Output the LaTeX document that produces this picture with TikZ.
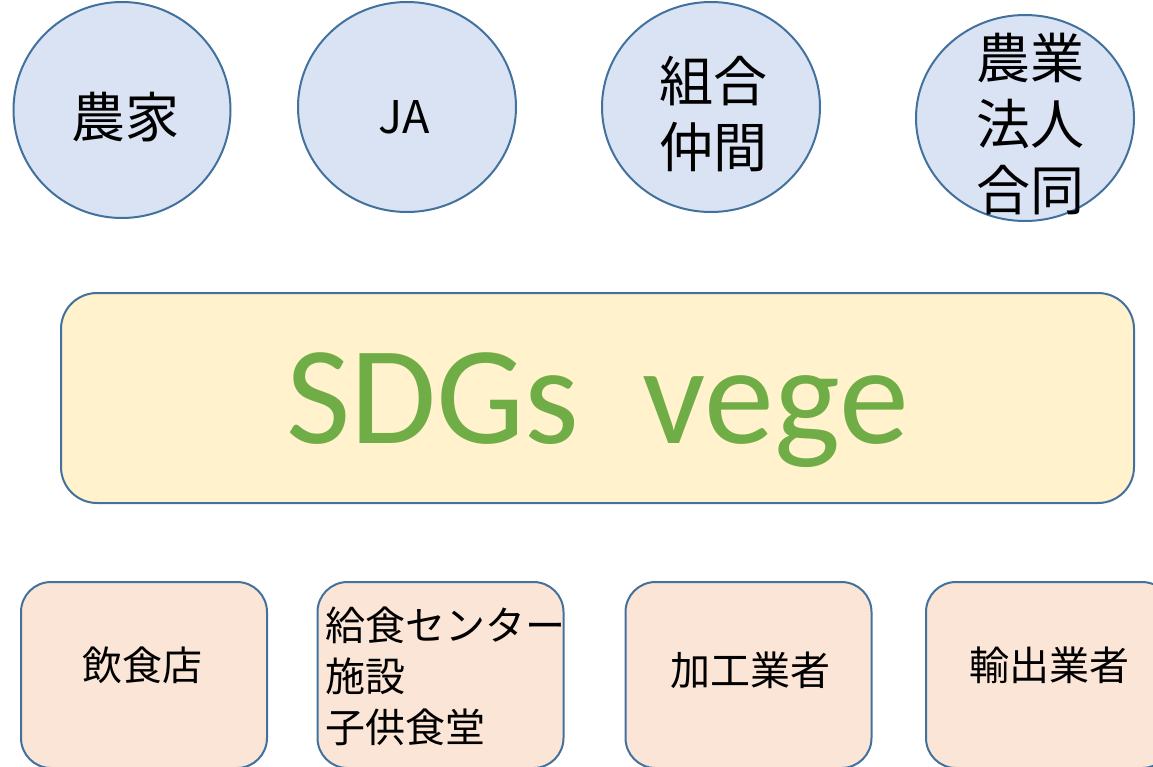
\documentclass[tikz,border=0pt]{standalone}
\usepackage{fontspec}
\setmainfont{Carlito}
\newfontfamily\jpfont{Noto Sans CJK JP}
\usetikzlibrary{shapes.geometric}

\definecolor{kreisblau}{HTML}{DAE3F3}
\definecolor{randblau}{HTML}{41719C}
\definecolor{gelb}{HTML}{FFF2CC}
\definecolor{rosa}{HTML}{FBE5D6}
\definecolor{gruen}{HTML}{70AD47}

\begin{document}
\begin{tikzpicture}[x=1pt, y=-1pt,
  kreis/.style={ellipse, draw=randblau, line width=2pt, fill=kreisblau,
    minimum width=218pt, minimum height=210pt, inner sep=0pt},
  kasten/.style={rectangle, rounded corners=30pt, draw=randblau, line width=2pt,
    fill=rosa, minimum width=246pt, minimum height=186pt},
  jp/.style={font=\jpfont\fontsize{54}{66}\selectfont, align=center},
  jpklein/.style={font=\jpfont\fontsize{40}{51}\selectfont, align=left}]

  % Rahmen
  \useasboundingbox (0,0) rectangle (1153,766);
  \clip (0,0) rectangle (1153,766);

  % Kreise oben
  \node[kreis, minimum width=217pt, minimum height=216pt] (noka) at (122,110) {};
  \node[kreis] (ja) at (407,107) {};
  \node[kreis] (kumiai) at (711,107) {};
  \node[kreis, minimum height=206pt] (hojin) at (1025,118) {};

  % Beschriftung Kreise
  \node[jp] (noka-text) at (125,117) {農家};
  \node[jp, font=\jpfont\fontsize{45}{50}\selectfont] (ja-text) at (404,117) {JA};
  \node[jp] (kumiai-text) at (713,114) {組合\\仲間};
  \node[jp] (hojin-text) at (1030,124) {農業\\法人\\合同};

  % Mitte
  \node[rectangle, rounded corners=36pt, draw=randblau, line width=2pt, fill=gelb,
    minimum width=1073pt, minimum height=210pt, text=gruen, text depth=0pt,
    font=\fontsize{140}{150}\selectfont] (sdgs) at (597.5,398) {SDGs\ \ vege};

  % Kaesten unten
  \foreach \n/\x in {inshoku/144, kyushoku/440.5, kako/748.5, yushutsu/1049} {
    \node[kasten] (\n) at (\x,675) {};
  }

  % Beschriftung Kaesten
  \node[jpklein] (inshoku-text) at (142,665) {飲食店};
  \node[jpklein] (kyushoku-text) at (445,676) {給食センター\\施設\\子供食堂};
  \node[jpklein] (kako-text) at (750,670) {加工業者};
  \node[jpklein] (yushutsu-text) at (1049,665) {輸出業者};

\end{tikzpicture}
\end{document}
